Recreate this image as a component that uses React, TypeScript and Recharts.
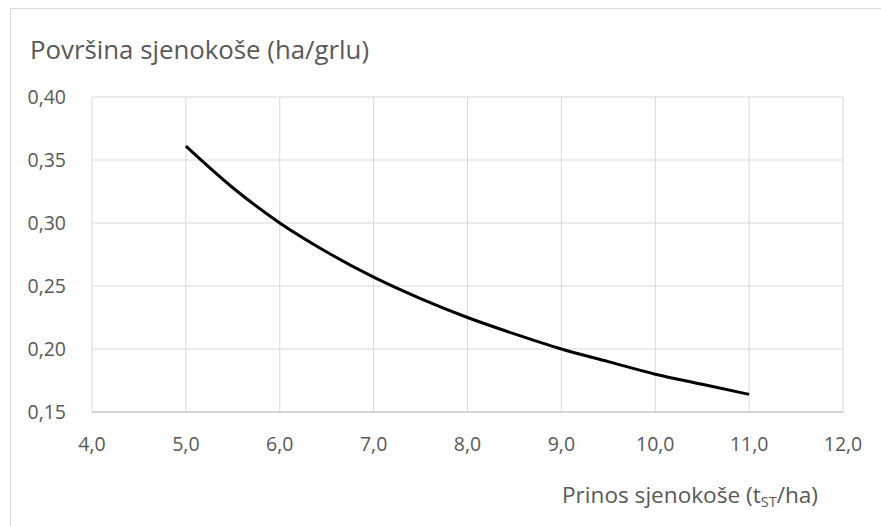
import React from "react";
import { LineChart, Line, XAxis, YAxis, CartesianGrid } from "recharts";

const yields = [5.0, 5.5, 6.0, 6.5, 7.0, 7.5, 8.0, 8.5, 9.0, 9.5, 10.0, 10.5, 11.0];
const areas = [0.361, 0.328, 0.3, 0.277, 0.257, 0.24, 0.225, 0.212, 0.2, 0.19, 0.18, 0.172, 0.164];
const xTicks = [4, 5, 6, 7, 8, 9, 10, 11, 12];
const yTicks = [0.15, 0.2, 0.25, 0.3, 0.35, 0.4];
const titleText = "Površina sjenokoše (ha/grlu)";
const xTitleMain = "Prinos sjenokoše (t";
const xTitleSub = "ST";
const xTitleEnd = "/ha)";

const data = yields.map((x, i) => ({ x, y: areas[i] }));

const FONT = "'Open Sans', 'Noto Sans', sans-serif";
const TXT = "#595959";

const XTick = (props: any) => {
  const { x, y, payload } = props;
  return (
    <text x={x} y={y + 13} textAnchor="middle" fill={TXT} fontSize={19.5} fontFamily={FONT}>
      {Number(payload.value).toFixed(1).replace(".", ",")}
    </text>
  );
};

const YTick = (props: any) => {
  const { x, y, payload } = props;
  return (
    <text x={x} y={y + 7} textAnchor="end" fill={TXT} fontSize={19.5} fontFamily={FONT}>
      {Number(payload.value).toFixed(2).replace(".", ",")}
    </text>
  );
};

export default function App() {
  return (
    <div style={{ position: "absolute", left: 0, top: 0, width: 881, height: 526, background: "#fff", overflow: "hidden", fontFamily: FONT }}>
      <div style={{ position: "absolute", left: 10, top: 8, width: 900, height: 600, borderLeft: "1px solid #d9d9d9", borderTop: "1px solid #d9d9d9" }} />
      <div style={{ position: "absolute", left: 30, top: 32, fontSize: 25.8, color: TXT, whiteSpace: "nowrap", lineHeight: "34px" }}>{titleText}</div>
      <div style={{ position: "absolute", left: 562, top: 480, fontSize: 22.6, color: TXT, whiteSpace: "nowrap", lineHeight: "30px" }}>
        {xTitleMain}
        <sub style={{ fontSize: 14.5, verticalAlign: "-4px" }}>{xTitleSub}</sub>
        {xTitleEnd}
      </div>
      <div style={{ position: "absolute", left: 0, top: 0 }}>
        <LineChart width={881} height={526} data={data} margin={{ top: 97, right: 38, bottom: 84, left: 32 }}>
          <CartesianGrid stroke="#d9d9d9" strokeWidth={1} />
          <XAxis
            dataKey="x"
            type="number"
            domain={[4, 12]}
            ticks={xTicks}
            axisLine={{ stroke: "#bfbfbf" }}
            tickLine={false}
            tickMargin={20}
            height={30}
            tick={<XTick />}
            interval={0}
          />
          <YAxis
            type="number"
            domain={[0.15, 0.4]}
            ticks={yTicks}
            axisLine={false}
            tickLine={false}
            tickMargin={20}
            width={60}
            tick={<YTick />}
            interval={0}
          />
          <Line type="monotone" dataKey="y" stroke="#000" strokeWidth={3} dot={false} isAnimationActive={false} />
        </LineChart>
      </div>
    </div>
  );
}
